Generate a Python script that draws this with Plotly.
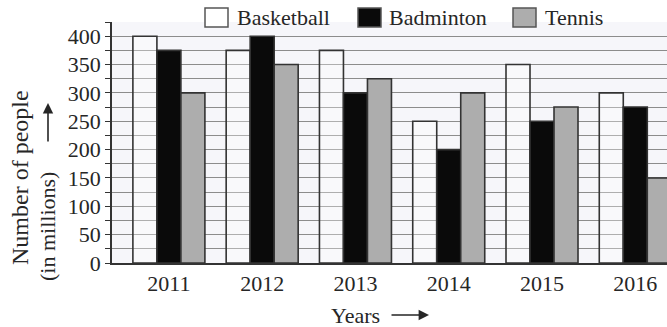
import plotly.graph_objects as go

years = ['2011', '2012', '2013', '2014', '2015', '2016']
basketball = [400, 375, 375, 250, 350, 300]
badminton = [375, 400, 300, 200, 250, 275]
tennis = [300, 350, 325, 300, 275, 150]

serif = 'Liberation Serif'
ink = '#262626'
edge = dict(color='#333333', width=1.6)

# plot area in pixels, used to place the text that sits outside it
L, T, W, H = 112, 22, 555, 241


def px(x):
    return (x - L) / W


def py(y):
    return (T + H - y) / H


series = [
    ('Basketball', basketball, 'rgba(255,255,255,0.3)'),
    ('Badminton', badminton, '#0a0a0a'),
    ('Tennis', tennis, '#adadad'),
]

fig = go.Figure()
for name, vals, col in series:
    fig.add_trace(go.Bar(x=years, y=vals, name=name,
                         marker=dict(color=col, line=edge)))

fig.update_layout(
    width=667, height=327,
    margin=dict(l=L, r=667 - L - W, t=T, b=327 - T - H, autoexpand=False),
    barmode='group', bargap=0.228, bargroupgap=0,
    paper_bgcolor='white', plot_bgcolor='#f6f6fa',
    font=dict(family=serif, size=22, color=ink),
    showlegend=False,
)
fig.update_xaxes(range=[-0.61, 5.34], showgrid=False, ticks='',
                 showline=True, linecolor='#333333', linewidth=1.5,
                 tickfont=dict(family=serif, size=22, color=ink))
fig.update_yaxes(range=[0, 425], tickvals=list(range(0, 401, 50)),
                 showline=True, linecolor='#333333', linewidth=1.5,
                 ticks='outside', ticklen=5, tickcolor='#333333',
                 gridcolor='#8c8c8c', gridwidth=1, zeroline=False,
                 minor=dict(dtick=25, showgrid=True, gridcolor='#8c8c8c',
                            ticks='outside', ticklen=5, tickcolor='#333333'),
                 tickfont=dict(family=serif, size=22, color=ink))

# legend drawn as boxes + labels along the top
legend_x = [(205, 235), (358, 387), (513, 543)]
for (name, vals, col), (bx, tx) in zip(series, legend_x):
    fig.add_shape(type='rect', xref='paper', yref='paper',
                  x0=px(bx), x1=px(bx + 23), y0=py(27), y1=py(8),
                  fillcolor=col if name != 'Basketball' else 'white',
                  line=dict(color='#555555', width=1.5))
    fig.add_annotation(text=name, xref='paper', yref='paper', x=px(tx), y=py(17),
                       xanchor='left', yanchor='middle', showarrow=False,
                       font=dict(family=serif, size=22, color=ink))

# y axis title, two rotated lines plus an arrow
fig.add_annotation(text='Number of people', xref='paper', yref='paper',
                   x=px(20), y=py(178), textangle=-90,
                   xanchor='center', yanchor='middle',
                   showarrow=False, font=dict(family=serif, size=24, color=ink))
fig.add_annotation(text='(in millions)', xref='paper', yref='paper',
                   x=px(47), y=py(227), textangle=-90,
                   xanchor='center', yanchor='middle',
                   showarrow=False, font=dict(family=serif, size=22, color=ink))
fig.add_annotation(text='', xref='paper', yref='paper',
                   x=px(48), y=py(103), ax=0, ay=40,
                   showarrow=True, arrowhead=2, arrowsize=1.3, arrowwidth=1.6,
                   arrowcolor=ink)
# x axis title with arrow
fig.add_annotation(text='Years', xref='paper', yref='paper',
                   x=px(355), y=py(315), xanchor='center', yanchor='middle',
                   showarrow=False, font=dict(family=serif, size=22, color=ink))
fig.add_annotation(text='', xref='paper', yref='paper',
                   x=px(429), y=py(315), ax=-39, ay=0,
                   showarrow=True, arrowhead=2, arrowsize=1.3, arrowwidth=1.6,
                   arrowcolor=ink)

# the page's default body margin would push the figure 8px right and down
fig.write_html('out.html', config={'displayModeBar': False},
               post_script="document.body.style.margin = '0';")
